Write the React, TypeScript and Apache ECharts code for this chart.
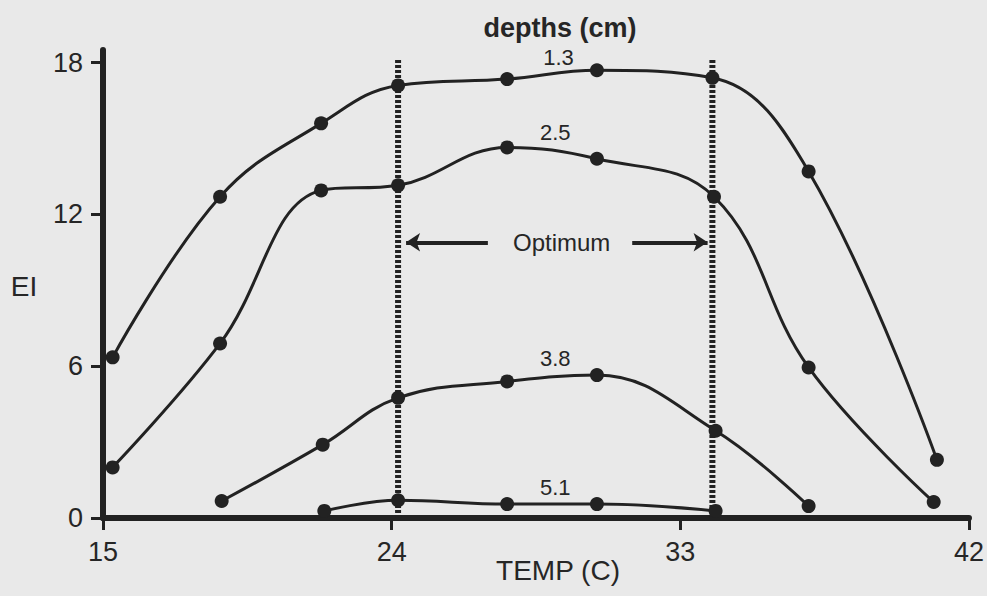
import React, { useEffect, useRef } from "react";
import * as echarts from "echarts";

// Temperature (C) / EI readings for each soil depth
const depth13: number[][] = [
  [15.3, 6.35], [18.65, 12.7], [21.8, 15.6], [24.2, 17.1], [27.6, 17.35],
  [30.4, 17.7], [34.0, 17.4], [37.0, 13.7], [41.0, 2.3],
];
const depth25: number[][] = [
  [15.3, 2.0], [18.65, 6.9], [21.8, 12.95], [24.2, 13.15], [27.6, 14.65],
  [30.4, 14.2], [34.05, 12.7], [37.0, 5.95], [40.9, 0.63],
];
const depth38: number[][] = [
  [18.7, 0.67], [21.85, 2.9], [24.2, 4.75], [27.6, 5.4], [30.4, 5.65],
  [34.1, 3.45], [37.0, 0.47],
];
const depth51: number[][] = [
  [21.9, 0.28], [24.2, 0.7], [27.6, 0.55], [30.4, 0.55], [34.1, 0.28],
];

const depthNames = ["1.3", "2.5", "3.8", "5.1"];
// label anchors in data coordinates
const depthLabelAnchors: number[][] = [
  [29.2, 18.2], [29.1, 15.25], [29.1, 6.3], [29.1, 1.2],
];

const optimumRange = [24.2, 34.0];
const optimumTop = 18.1;
const optimumLabel = "Optimum";
const optimumAnchor = [29.3, 10.9];
const arrowLeft = [[27.0, 10.9], [24.45, 10.9]];
const arrowRight = [[31.5, 10.9], [33.85, 10.9]];

const xTicks = [15, 24, 33, 42];
const yTicks = [0, 6, 12, 18];

const INK = "#222222";
const TEXT = "#262626";
const FONT = "'Liberation Sans', Arial, Helvetica, sans-serif";

export default function App() {
  const ref = useRef<HTMLDivElement>(null);

  useEffect(() => {
    if (!ref.current) return;
    const chart = echarts.init(ref.current, undefined, { renderer: "svg" });

    const dataSeries = [depth13, depth25, depth38, depth51].map((d, i) => ({
      type: "line",
      name: depthNames[i],
      data: d,
      smooth: 0.4,
      symbol: "circle",
      symbolSize: 14,
      z: 5,
      itemStyle: { color: INK },
      lineStyle: { color: INK, width: 3 },
    }));

    const labelData: any[] = depthNames.map((n, i) => ({
      name: n,
      value: depthLabelAnchors[i],
      label: { fontSize: 22, color: TEXT },
    }));
    labelData.push({
      name: optimumLabel,
      value: optimumAnchor,
      label: { fontSize: 24, color: TEXT },
    });

    chart.setOption({
      animation: false,
      backgroundColor: "#e9e9e9",
      grid: { left: 103, right: 18, top: 50, bottom: 78, containLabel: false },
      xAxis: {
        type: "value",
        min: 15,
        max: 42,
        splitLine: { show: false },
        axisLine: { show: true, lineStyle: { color: INK, width: 6 } },
        axisTick: {
          show: true,
          customValues: xTicks,
          length: 12,
          lineStyle: { color: INK, width: 3 },
        },
        axisLabel: {
          customValues: xTicks,
          margin: 20,
          color: TEXT,
          fontSize: 27,
          fontFamily: FONT,
        },
      },
      yAxis: {
        type: "value",
        min: 0,
        max: 18.5,
        splitLine: { show: false },
        axisLine: { show: true, lineStyle: { color: INK, width: 6 } },
        axisTick: {
          show: true,
          customValues: yTicks,
          length: 12,
          lineStyle: { color: INK, width: 3 },
        },
        axisLabel: {
          customValues: yTicks,
          margin: 20,
          color: TEXT,
          fontSize: 27,
          fontFamily: FONT,
        },
      },
      graphic: [
        {
          type: "text",
          x: 560,
          y: 28,
          style: {
            text: "depths (cm)",
            font: `bold 27px ${FONT}`,
            fill: TEXT,
            textAlign: "center",
            textVerticalAlign: "middle",
          },
        },
        {
          type: "text",
          x: 24,
          y: 286,
          style: {
            text: "EI",
            font: `28px ${FONT}`,
            fill: TEXT,
            textAlign: "center",
            textVerticalAlign: "middle",
          },
        },
        {
          type: "text",
          x: 558,
          y: 570,
          style: {
            text: "TEMP (C)",
            font: `28px ${FONT}`,
            fill: TEXT,
            textAlign: "center",
            textVerticalAlign: "middle",
          },
        },
      ],
      series: [
        ...optimumRange.map((x) => ({
          type: "line",
          data: [[x, 0], [x, optimumTop]],
          symbol: "none",
          silent: true,
          z: 2,
          lineStyle: { color: INK, width: 6, type: [3, 2] },
        })),
        {
          type: "line",
          data: [],
          silent: true,
          markLine: {
            silent: true,
            symbol: ["none", "arrow"],
            symbolSize: [14, 14],
            label: { show: false },
            lineStyle: { color: INK, width: 4, type: "solid" },
            data: [
              [{ coord: arrowLeft[0] }, { coord: arrowLeft[1] }],
              [{ coord: arrowRight[0] }, { coord: arrowRight[1] }],
            ],
          },
        },
        ...dataSeries,
        {
          type: "scatter",
          data: labelData,
          symbolSize: 0,
          clip: false,
          silent: true,
          itemStyle: { opacity: 1 },
          label: {
            show: true,
            position: "inside",
            formatter: "{b}",
            color: TEXT,
            fontSize: 22,
            fontFamily: FONT,
          },
        },
      ],
    });

    return () => chart.dispose();
  }, []);

  return (
    <div
      ref={ref}
      style={{ position: "fixed", left: 0, top: 0, width: 987, height: 596 }}
    />
  );
}
